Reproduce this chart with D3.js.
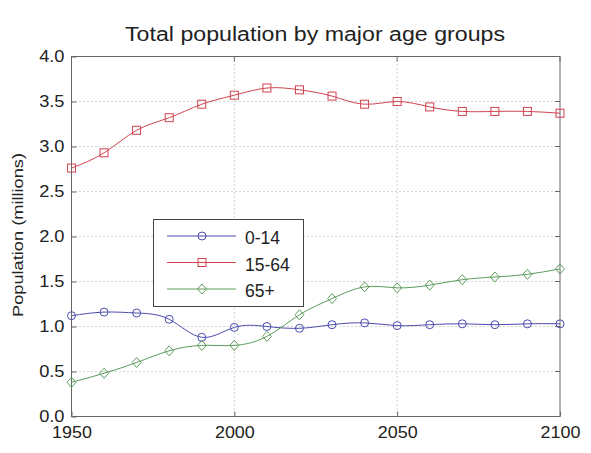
<!DOCTYPE html>
<html>
<head>
<meta charset="utf-8">
<script src="https://cdn.jsdelivr.net/npm/d3@7"></script>
<style>
body{margin:0;background:#fff;}
text{font-family:"Liberation Sans",Arial,sans-serif;fill:#222;}
</style>
</head>
<body>
<svg id="c" width="591" height="453"></svg>
<script>
const years = [1950,1960,1970,1980,1990,2000,2010,2020,2030,2040,2050,2060,2070,2080,2090,2100];
const age0_14 = [1.12,1.16,1.15,1.08,0.88,0.99,1.00,0.98,1.02,1.04,1.01,1.02,1.03,1.02,1.03,1.03];
const age15_64 = [2.76,2.93,3.18,3.32,3.47,3.57,3.65,3.63,3.56,3.47,3.50,3.44,3.39,3.39,3.39,3.37];
const age65p = [0.38,0.48,0.60,0.73,0.79,0.79,0.89,1.13,1.31,1.44,1.43,1.46,1.52,1.55,1.58,1.64];
const xTicks = [1950,2000,2050,2100];
const yTicks = [0,0.5,1,1.5,2,2.5,3,3.5,4];
const seriesNames = ["0-14","15-64","65+"];
const seriesColors = ["#4c4cae","#d0444e","#5c9c5c"];
const seriesMarkers = ["circle","square","diamond"];
const seriesData = [age0_14, age15_64, age65p];

const svg = d3.select("#c");
const L=71.5, R=560, T=56.5, B=416.5;
const x = d3.scaleLinear().domain([1950,2100]).range([L,R]);
const y = d3.scaleLinear().domain([0,4]).range([B,T]);

// grid
const g = svg.append("g");
g.selectAll(".gx").data(xTicks.slice(1,-1)).enter().append("line")
 .attr("x1",d=>x(d)).attr("x2",d=>x(d)).attr("y1",T).attr("y2",B)
 .attr("stroke","#aaa").attr("stroke-dasharray","1,3");
g.selectAll(".gy").data(yTicks.slice(1,-1)).enter().append("line")
 .attr("y1",d=>y(d)).attr("y2",d=>y(d)).attr("x1",L).attr("x2",R)
 .attr("stroke","#aaa").attr("stroke-dasharray","1,3");

// frame
svg.append("rect").attr("x",L).attr("y",T).attr("width",R-L).attr("height",B-T)
 .attr("fill","none").attr("stroke","#666").attr("stroke-width",1);

function stretch(sel, f){
  sel.each(function(){ const w=this.getComputedTextLength(); d3.select(this).attr("textLength",w*f).attr("lengthAdjust","spacingAndGlyphs"); });
}

// axes
const xa = svg.append("g").attr("transform",`translate(0,${B})`)
 .call(d3.axisBottom(x).tickValues(xTicks).tickFormat(d3.format("d")).tickSize(-5).tickPadding(10));
xa.select(".domain").remove();
xa.selectAll("line").attr("stroke","#666");
xa.selectAll("text").attr("font-size",16).style("font-family","Liberation Sans, Arial, sans-serif").attr("fill","#222");
stretch(xa.selectAll("text"),1.12);
const ya = svg.append("g").attr("transform",`translate(${L},0)`)
 .call(d3.axisLeft(y).tickValues(yTicks).tickFormat(d3.format(".1f")).tickSize(-5).tickPadding(7));
ya.select(".domain").remove();
ya.selectAll("line").attr("stroke","#666");
ya.selectAll("text").attr("font-size",16).style("font-family","Liberation Sans, Arial, sans-serif").attr("fill","#222");
stretch(ya.selectAll("text"),1.14);
// right/top ticks
svg.append("g").selectAll("line").data(yTicks).enter().append("line")
 .attr("x1",R).attr("x2",R-5).attr("y1",d=>y(d)).attr("y2",d=>y(d)).attr("stroke","#666");
svg.append("g").selectAll("line").data(xTicks).enter().append("line")
 .attr("y1",T).attr("y2",T+5).attr("x1",d=>x(d)).attr("x2",d=>x(d)).attr("stroke","#666");

// title & labels
svg.append("text").attr("x",315).attr("y",41).attr("text-anchor","middle")
 .attr("font-size",20).attr("textLength",380).attr("lengthAdjust","spacingAndGlyphs")
 .text("Total population by major age groups");
svg.append("text").attr("transform","translate(22.5,235) rotate(-90)").attr("text-anchor","middle")
 .attr("font-size",15).attr("textLength",164).attr("lengthAdjust","spacingAndGlyphs")
 .text("Population (millions)");

function drawMarker(sel, type, cx, cy, color){
  if(type==="circle") sel.append("circle").attr("cx",cx).attr("cy",cy).attr("r",4).attr("fill","none").attr("stroke",color);
  else if(type==="square") sel.append("rect").attr("x",cx-4).attr("y",cy-4).attr("width",8).attr("height",8).attr("fill","none").attr("stroke",color);
  else sel.append("path").attr("d",`M${cx},${cy-5}L${cx+4.5},${cy}L${cx},${cy+5}L${cx-4.5},${cy}Z`).attr("fill","none").attr("stroke",color);
}

const line = d3.line().x((d,i)=>x(years[i])).y(d=>y(d)).curve(d3.curveNatural);
seriesData.forEach((data,k)=>{
  svg.append("path").attr("d",line(data)).attr("fill","none").attr("stroke",seriesColors[k]).attr("stroke-width",1);
  const mg = svg.append("g");
  data.forEach((v,i)=>drawMarker(mg, seriesMarkers[k], x(years[i]), y(v), seriesColors[k]));
});

// legend
const lg = svg.append("g");
lg.append("rect").attr("x",153.5).attr("y",219.5).attr("width",150).attr("height",87)
 .attr("fill","#fff").attr("stroke","#444");
seriesNames.forEach((n,k)=>{
  const ly = 236 + k*26.5;
  lg.append("line").attr("x1",167).attr("x2",236).attr("y1",ly).attr("y2",ly).attr("stroke",seriesColors[k]);
  drawMarker(lg, seriesMarkers[k], 202, ly, seriesColors[k]);
  lg.append("text").attr("x",245).attr("y",ly+8).attr("font-size",17.5).text(n);
});
</script>
</body>
</html>
